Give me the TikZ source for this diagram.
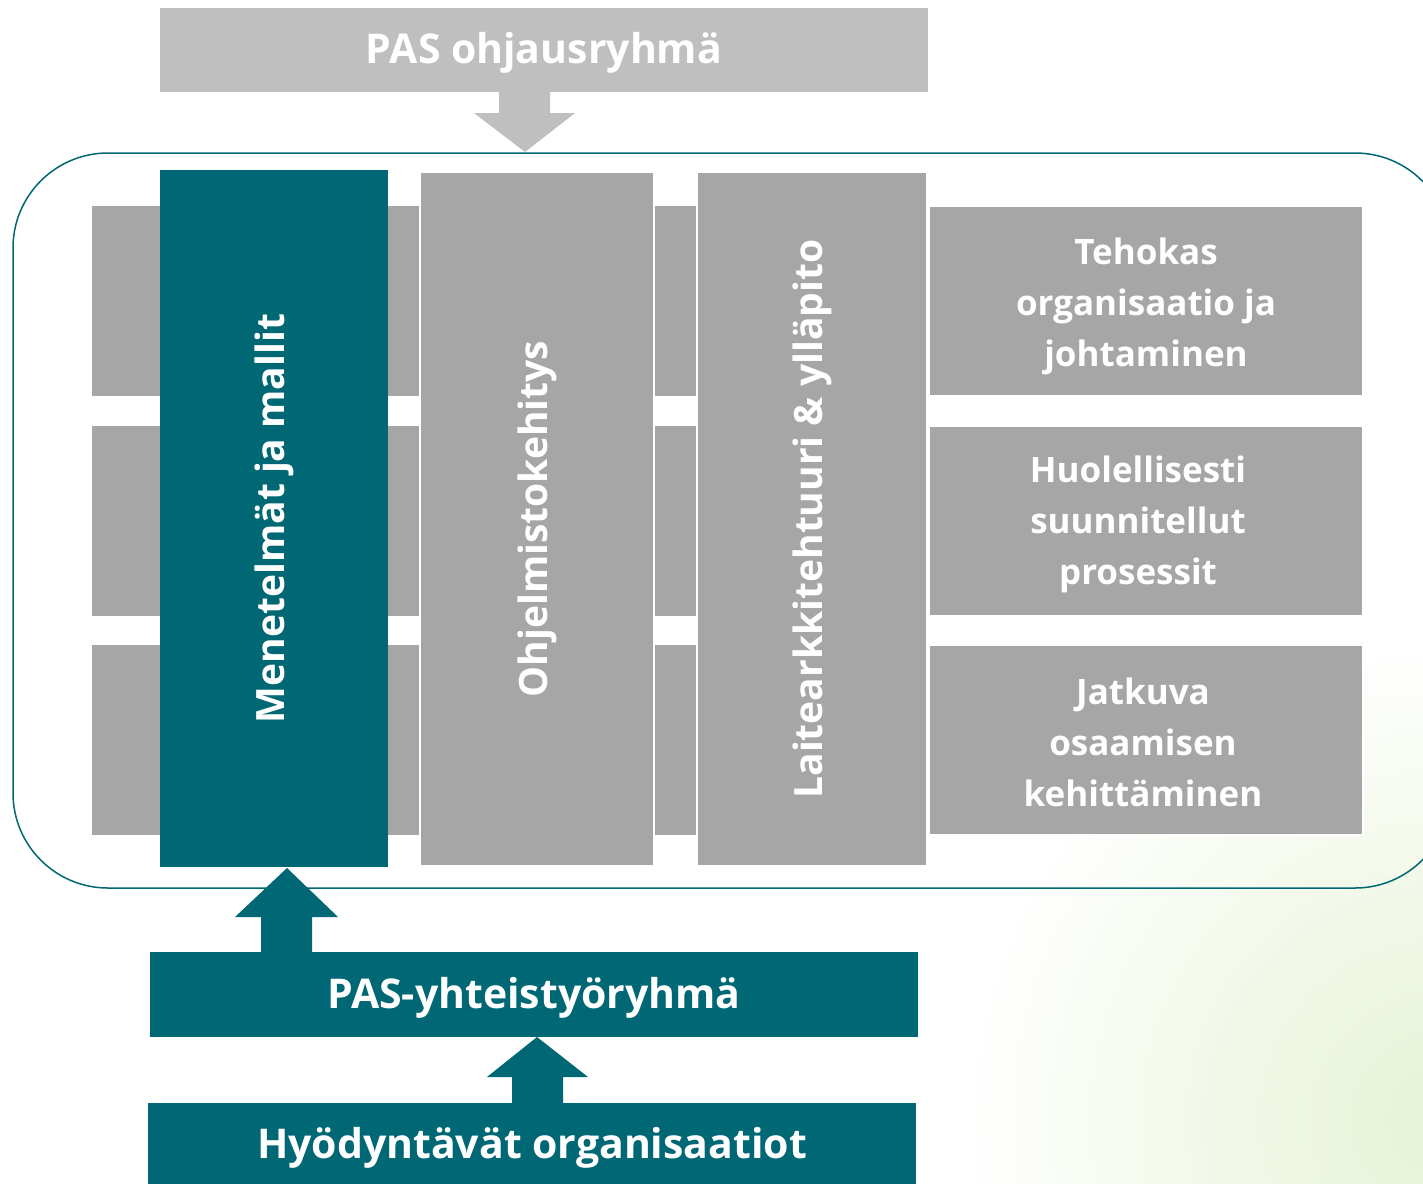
\documentclass[tikz,border=0pt]{standalone}
\usepackage{fontspec}
\setmainfont{Open Sans}
\usetikzlibrary{calc}
\definecolor{pasteal}{RGB}{0,103,117}
\definecolor{pasgrey}{RGB}{166,166,166}
\definecolor{paslight}{RGB}{191,191,191}
\definecolor{pasgreen}{RGB}{230,242,212}

\begin{document}
\begin{tikzpicture}[x=1pt, y=-1pt,
  box/.style={inner sep=0pt, outer sep=0pt, text=white},
  bigtext/.style={font=\fontsize{41}{48}\selectfont\bfseries},
  coltext/.style={text=white, rotate=90, font=\fontsize{39}{46}\selectfont\bfseries},
  sidetext/.style={text=white, align=center, font=\fontsize{35}{51}\selectfont\bfseries}]
\useasboundingbox (0,0) rectangle (1423,1183);
\clip (0,0) rectangle (1423,1183);
% background
\shade[inner color=pasgreen, outer color=white] (1440,1120) circle (480);
% top group
\node[box, fill=paslight, minimum width=768, minimum height=84] (ohjaus) at (544,50) {};
\node[text=white, bigtext] at ($(ohjaus.center)+(0,3)$) {PAS ohjausryhmä};
\fill[paslight] (499,92) -- (499,113) -- (474,113) -- (525,152) -- (575,113) -- (550,113) -- (550,92) -- cycle;
% frame
\draw[pasteal, line width=1.5pt, rounded corners=95] (13,153) rectangle (1450,888);
% rows
\fill[pasgrey] (92,206) rectangle (1363,396);
\fill[pasgrey] (92,426) rectangle (1363,616);
\fill[pasgrey] (92,645) rectangle (1363,835);
% columns
\node[box, fill=pasteal, minimum width=228, minimum height=697] (menetelmat) at (274,518.5) {};
\node[box, fill=pasgrey, draw=white, line width=2pt, minimum width=234, minimum height=694] (ohjelmisto) at (537,519) {};
\node[box, fill=pasgrey, draw=white, line width=2pt, minimum width=230, minimum height=694] (laite) at (812,519) {};
\node[coltext] at (menetelmat.center) {Menetelmät ja mallit};
\node[coltext] at (ohjelmisto.center) {Ohjelmistokehitys};
\node[coltext] at (laite.center) {Laitearkkitehtuuri \& ylläpito};
% right side
\node[box, fill=pasgrey, draw=white, line width=2pt, minimum width=434, minimum height=190] (tehokas) at (1146,301) {};
\node[box, fill=pasgrey, draw=white, line width=2pt, minimum width=434, minimum height=190] (prosessit) at (1146,521) {};
\node[box, fill=pasgrey, draw=white, line width=2pt, minimum width=434, minimum height=190] (osaaminen) at (1146,740) {};
\node[sidetext] at ($(tehokas.center)+(0,5)$) {Tehokas\\organisaatio ja\\johtaminen};
\node[sidetext] at ($(prosessit.center)+(-8,3)$) {Huolellisesti\\suunnitellut\\prosessit};
\node[sidetext] at ($(osaaminen.center)+(-3,2)$) {Jatkuva\\osaamisen\\kehittäminen};
% bottom group
\node[box, fill=pasteal, minimum width=768, minimum height=85] (yhteistyo) at (534,994.5) {};
\node[text=white, bigtext] at ($(yhteistyo.center)+(0,3)$) {PAS-yhteistyöryhmä};
\node[box, fill=pasteal, minimum width=768, minimum height=84] (hyodyntavat) at (532,1145) {};
\node[text=white, bigtext] at ($(hyodyntavat.center)+(0,3)$) {Hyödyntävät organisaatiot};
\fill[pasteal] (261,952) -- (261,917) -- (235,917) -- (287,868) -- (338,917) -- (312,917) -- (312,952) -- cycle;
\fill[pasteal] (512,1103) -- (512,1077) -- (487,1077) -- (537,1037) -- (588,1077) -- (563,1077) -- (563,1103) -- cycle;
\end{tikzpicture}
\end{document}
